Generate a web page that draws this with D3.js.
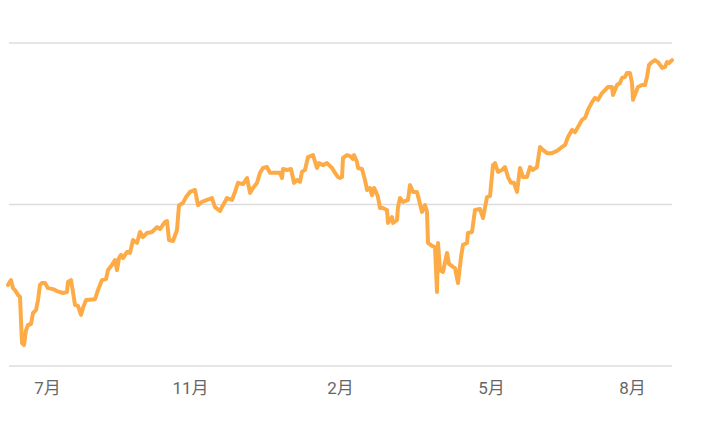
<!DOCTYPE html>
<html>
<head>
<meta charset="utf-8">
<script src="https://cdn.jsdelivr.net/npm/d3@7/dist/d3.min.js"></script>
<style>
  html, body { margin: 0; padding: 0; background: #fff; }
  svg { display: block; }
</style>
</head>
<body>
<svg id="chart" width="705" height="433"></svg>
<script>
// step index along the series
const steps = [0,3,5,7,10,12,14,16,18,20,23,25,28,30,32,34,37,40,45,49,52,55,59,60,63,65,67,70,73,75,78,87,90,94,98,100,104,107,109,111,113,115,119,122,125,129,132,135,139,144,149,152,157,159,161,165,169,171,175,178,182,187,190,194,199,204,207,212,215,219,224,227,230,235,239,242,245,249,252,255,259,262,267,272,274,275,279,283,286,289,292,294,297,300,305,309,311,315,319,324,327,330,332,334,335,339,342,345,346,349,350,354,357,359,362,364,366,368,370,372,375,379,380,384,385,389,390,392,395,400,402,405,409,411,414,417,419,420,424,427,429,430,432,435,439,441,445,447,450,453,455,459,460,464,467,472,475,479,482,485,487,490,494,497,500,503,506,509,512,515,519,522,525,529,532,535,539,544,549,554,557,560,564,567,570,574,577,580,584,587,590,594,597,600,604,605,609,612,614,617,619,622,624,625,628,630,634,637,639,641,644,647,650,652,654,657,659,661,664];
// series values
const values = [25.1,26.6,24.1,23.5,22.0,21.4,7.1,6.5,11.1,12.7,13.0,16.4,17.3,20.4,25.1,25.7,25.7,24.1,23.8,23.2,22.9,22.6,22.9,26.0,26.6,22.9,18.9,18.6,15.8,18.0,20.4,20.7,23.5,26.6,26.9,29.7,31.3,32.8,29.7,33.4,34.4,33.4,35.3,35.0,39.0,38.1,41.5,39.9,41.2,41.5,43.0,42.4,44.6,44.9,39.0,38.7,42.1,49.8,50.5,52.3,53.9,54.5,49.8,50.8,51.4,52.0,49.2,48.0,49.8,52.0,51.4,53.9,56.7,56.3,58.2,53.6,55.1,56.7,59.8,61.3,61.6,59.8,59.8,59.8,58.2,61.0,60.7,61.0,56.7,57.6,57.0,60.1,60.7,64.7,65.3,61.3,62.8,62.2,62.8,61.3,59.8,58.5,58.2,58.5,64.4,65.3,65.0,64.1,65.3,63.2,61.3,61.0,57.6,54.5,55.1,52.9,55.1,53.9,52.3,48.9,48.9,48.3,44.3,46.1,44.3,45.2,49.2,52.0,50.8,51.4,56.0,53.9,53.9,51.4,47.7,49.8,47.7,38.1,37.2,36.8,22.9,38.1,29.7,29.1,35.0,31.6,30.7,30.3,25.7,33.7,37.5,38.1,41.2,41.5,48.3,48.6,45.8,52.3,52.6,62.2,62.8,60.1,60.7,61.6,58.5,56.7,56.7,53.9,61.3,58.5,58.5,61.6,60.7,61.6,67.8,66.9,65.9,65.9,66.6,67.8,68.4,70.9,73.1,72.4,74.0,76.2,76.8,79.3,81.7,83.0,82.4,84.5,85.4,86.4,86.4,83.9,87.0,87.6,89.2,89.5,90.7,90.7,87.6,82.4,84.8,86.4,87.0,87.0,89.5,93.2,94.1,94.7,94.1,93.2,92.3,92.6,94.1,93.8,94.7];
// x-axis tick labels and their step positions
const tickLabels = ["7月","11月","2月","5月","8月"];
const tickSteps = [39,182,332,483,624];
// horizontal gridline values
const gridValues = [0,50,100];

const svg = d3.select("#chart");
const x = d3.scaleLinear().domain([0, 664]).range([8, 672]);
const y = d3.scaleLinear().domain([0, 100]).range([366, 43]);

// gridlines
svg.append("g").selectAll("line").data(gridValues).join("line")
  .attr("x1", 9).attr("x2", 672)
  .attr("y1", d => y(d)).attr("y2", d => y(d))
  .attr("stroke", "#dcdcdc").attr("stroke-width", 1.5);

// x axis labels
const xAxis = d3.axisBottom(x)
  .tickValues(tickSteps)
  .tickFormat((d, i) => tickLabels[i])
  .tickSize(0).tickPadding(0);
const gx = svg.append("g").attr("transform", "translate(0,382)").call(xAxis);
gx.select(".domain").remove();
gx.selectAll("text")
  .attr("dy", "0.71em")
  .attr("fill", "#666")
  .style("font-family", "Roboto, 'Noto Sans CJK SC', sans-serif")
  .style("font-size", "17px");

// line
const data = steps.map((s, i) => ({s, v: values[i]}));
const line = d3.line().x(d => x(d.s)).y(d => y(d.v)).curve(d3.curveLinear);
svg.append("path").datum(data)
  .attr("d", line)
  .attr("fill", "none")
  .attr("stroke", "#fdab47")
  .attr("stroke-width", 4)
  .attr("stroke-linejoin", "round")
  .attr("stroke-linecap", "round");
</script>
</body>
</html>
